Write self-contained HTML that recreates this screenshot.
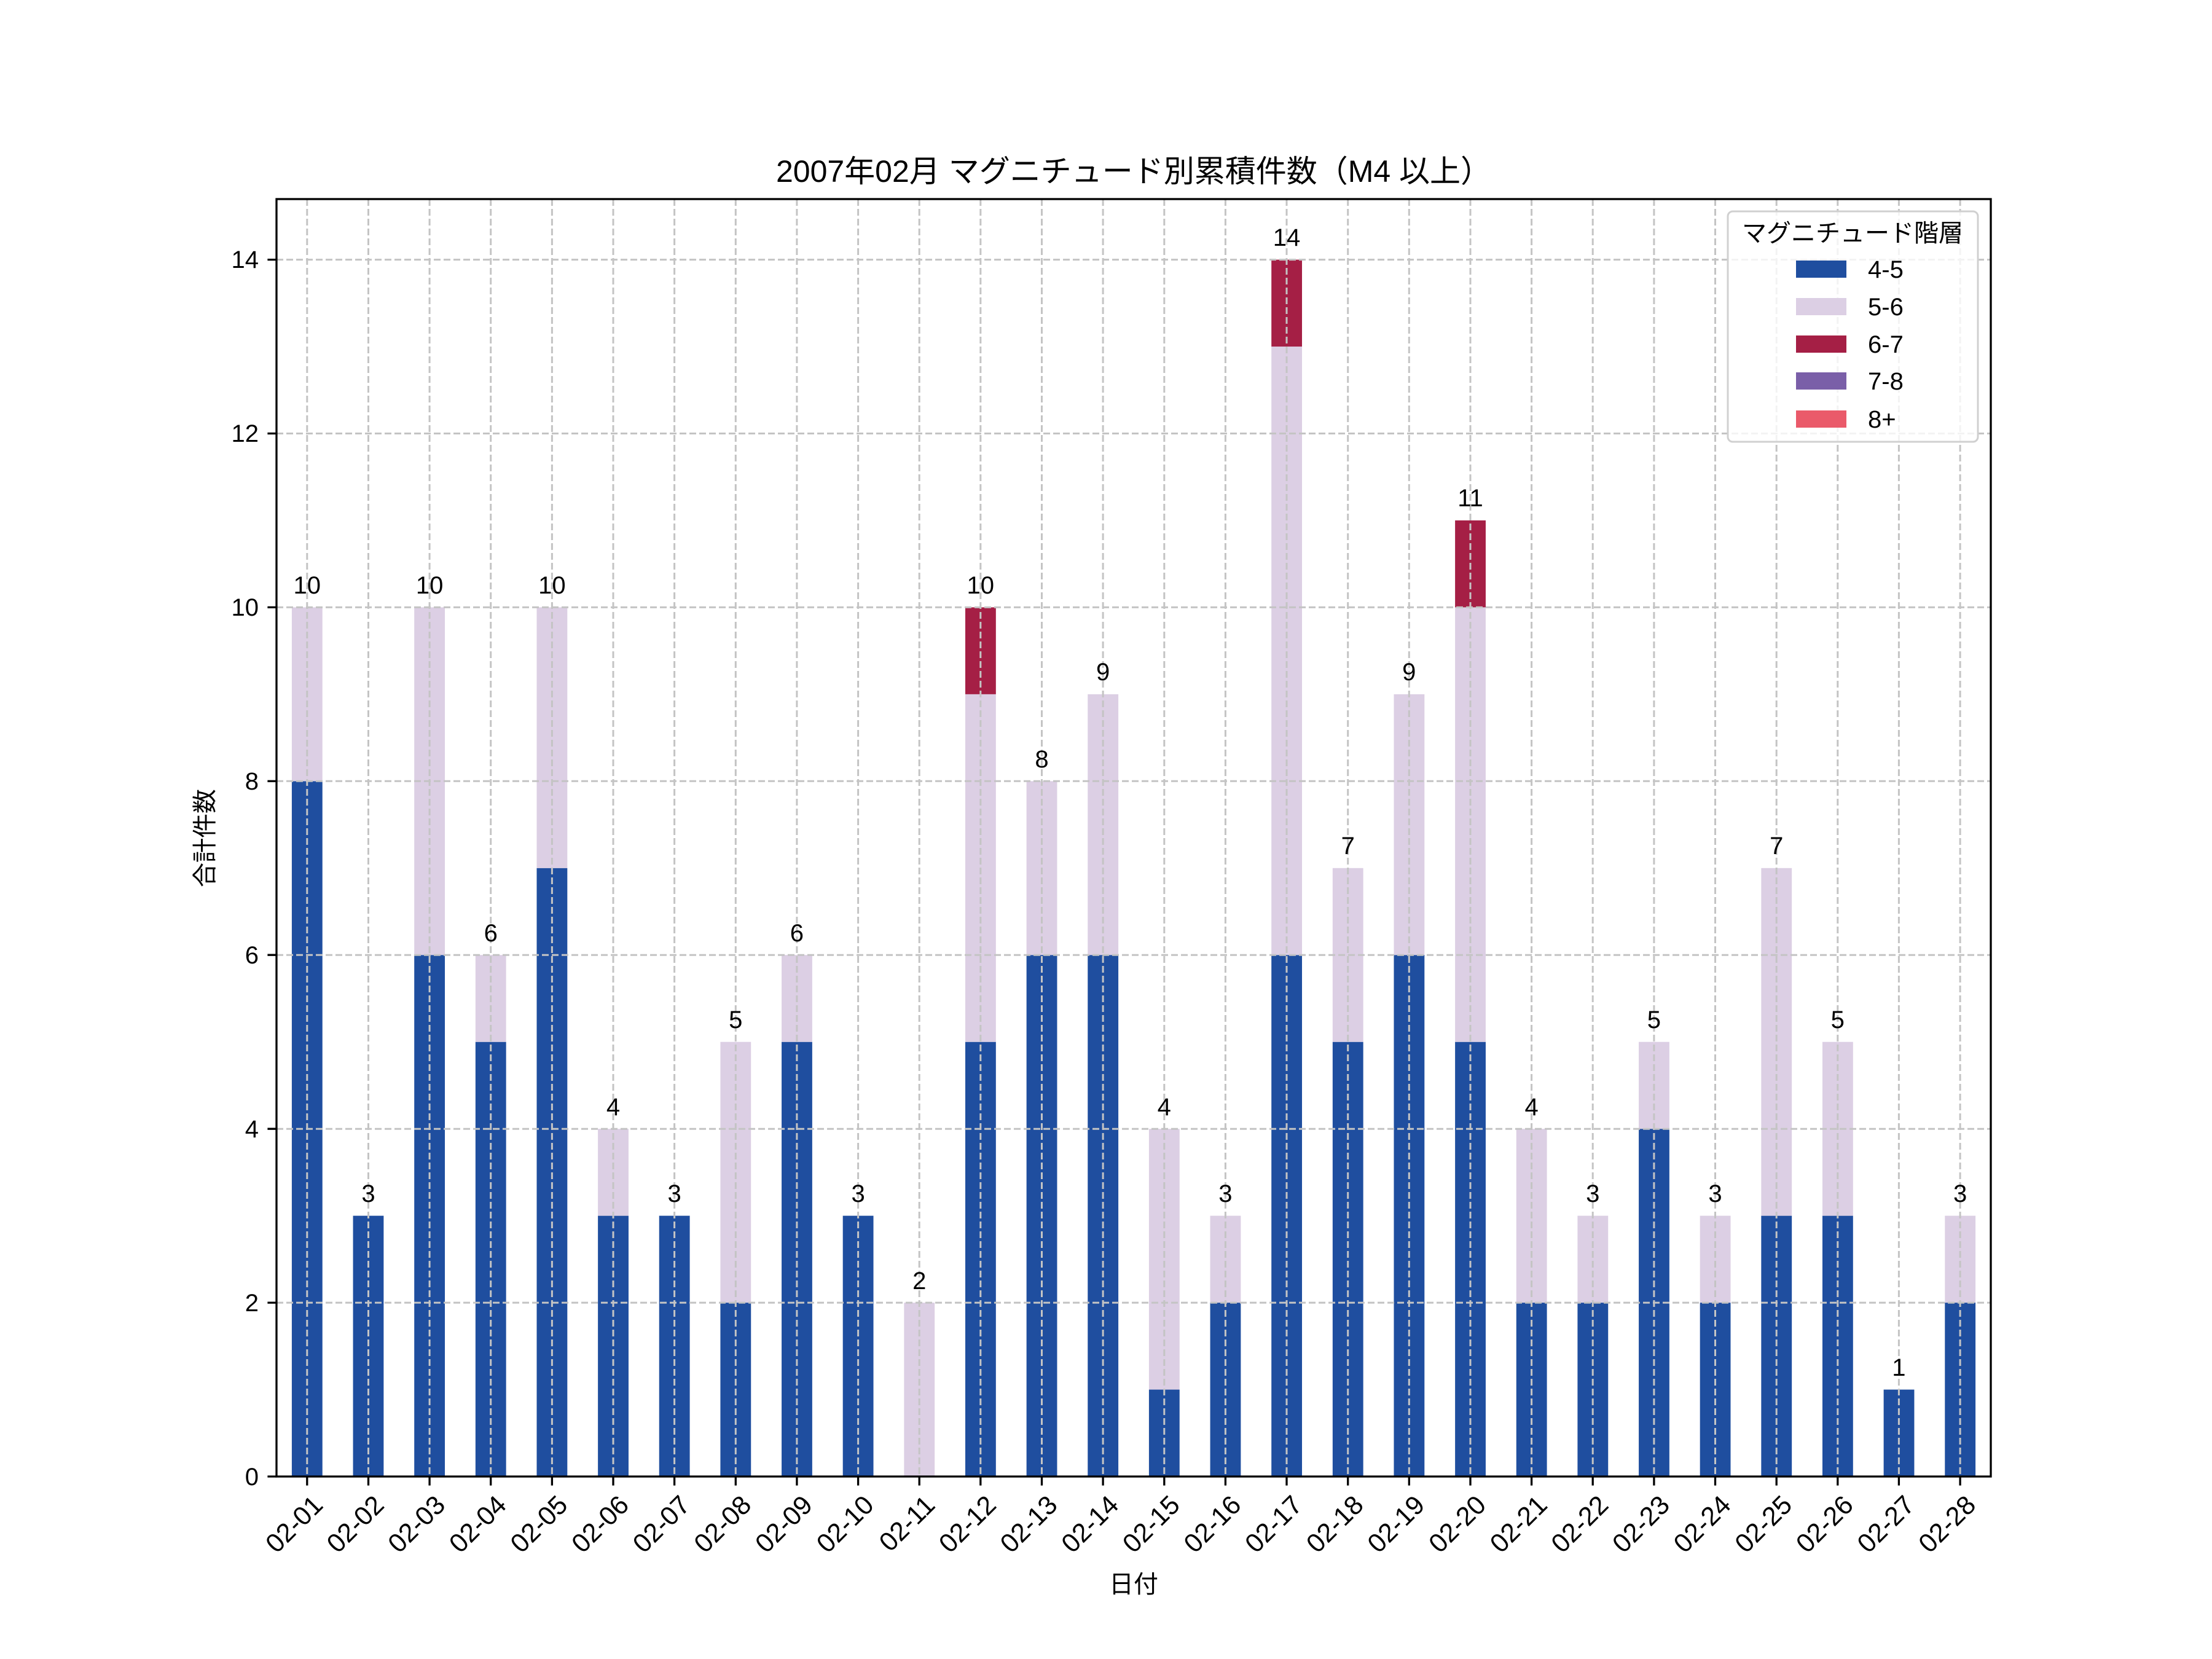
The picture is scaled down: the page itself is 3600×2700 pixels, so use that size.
<!DOCTYPE html>
<html><head><meta charset="utf-8"><style>
html,body{margin:0;padding:0;background:#fff;}
svg{display:block;font-family:"Liberation Sans","Noto Sans CJK JP",sans-serif;}
</style></head><body>
<svg width="3600" height="2700" viewBox="0 0 3600 2700" xmlns="http://www.w3.org/2000/svg">
<rect width="3600" height="2700" fill="#fff"/>
<g transform="translate(499.82,2403) scale(99.642857,-141.46)">
<g fill="#1f4e9f">
<rect x="-0.25" y="0" width="0.5" height="8"/>
<rect x="0.75" y="0" width="0.5" height="3"/>
<rect x="1.75" y="0" width="0.5" height="6"/>
<rect x="2.75" y="0" width="0.5" height="5"/>
<rect x="3.75" y="0" width="0.5" height="7"/>
<rect x="4.75" y="0" width="0.5" height="3"/>
<rect x="5.75" y="0" width="0.5" height="3"/>
<rect x="6.75" y="0" width="0.5" height="2"/>
<rect x="7.75" y="0" width="0.5" height="5"/>
<rect x="8.75" y="0" width="0.5" height="3"/>
<rect x="10.75" y="0" width="0.5" height="5"/>
<rect x="11.75" y="0" width="0.5" height="6"/>
<rect x="12.75" y="0" width="0.5" height="6"/>
<rect x="13.75" y="0" width="0.5" height="1"/>
<rect x="14.75" y="0" width="0.5" height="2"/>
<rect x="15.75" y="0" width="0.5" height="6"/>
<rect x="16.75" y="0" width="0.5" height="5"/>
<rect x="17.75" y="0" width="0.5" height="6"/>
<rect x="18.75" y="0" width="0.5" height="5"/>
<rect x="19.75" y="0" width="0.5" height="2"/>
<rect x="20.75" y="0" width="0.5" height="2"/>
<rect x="21.75" y="0" width="0.5" height="4"/>
<rect x="22.75" y="0" width="0.5" height="2"/>
<rect x="23.75" y="0" width="0.5" height="3"/>
<rect x="24.75" y="0" width="0.5" height="3"/>
<rect x="25.75" y="0" width="0.5" height="1"/>
<rect x="26.75" y="0" width="0.5" height="2"/>
</g>
<g fill="#dccfe4">
<rect x="-0.25" y="8" width="0.5" height="2"/>
<rect x="1.75" y="6" width="0.5" height="4"/>
<rect x="2.75" y="5" width="0.5" height="1"/>
<rect x="3.75" y="7" width="0.5" height="3"/>
<rect x="4.75" y="3" width="0.5" height="1"/>
<rect x="6.75" y="2" width="0.5" height="3"/>
<rect x="7.75" y="5" width="0.5" height="1"/>
<rect x="9.75" y="0" width="0.5" height="2"/>
<rect x="10.75" y="5" width="0.5" height="4"/>
<rect x="11.75" y="6" width="0.5" height="2"/>
<rect x="12.75" y="6" width="0.5" height="3"/>
<rect x="13.75" y="1" width="0.5" height="3"/>
<rect x="14.75" y="2" width="0.5" height="1"/>
<rect x="15.75" y="6" width="0.5" height="7"/>
<rect x="16.75" y="5" width="0.5" height="2"/>
<rect x="17.75" y="6" width="0.5" height="3"/>
<rect x="18.75" y="5" width="0.5" height="5"/>
<rect x="19.75" y="2" width="0.5" height="2"/>
<rect x="20.75" y="2" width="0.5" height="1"/>
<rect x="21.75" y="4" width="0.5" height="1"/>
<rect x="22.75" y="2" width="0.5" height="1"/>
<rect x="23.75" y="3" width="0.5" height="4"/>
<rect x="24.75" y="3" width="0.5" height="2"/>
<rect x="26.75" y="2" width="0.5" height="1"/>
</g>
<g fill="#a51f45">
<rect x="10.75" y="9" width="0.5" height="1"/>
<rect x="15.75" y="13" width="0.5" height="1"/>
<rect x="18.75" y="10" width="0.5" height="1"/>
</g>
</g>
<!-- grid -->
<g stroke="#c4c4c4" stroke-width="3" stroke-dasharray="11,5" fill="none">
<path d="M450 2120.1H3240M450 1837.2H3240M450 1554.2H3240M450 1271.3H3240M450 988.4H3240M450 705.5H3240M450 422.6H3240"/>
<path d="M499.8 324V2403M599.5 324V2403M699.1 324V2403M798.7 324V2403M898.4 324V2403M998 324V2403M1097.6 324V2403M1197.3 324V2403M1296.9 324V2403M1396.6 324V2403M1496.2 324V2403M1595.8 324V2403M1695.5 324V2403M1795.1 324V2403M1894.8 324V2403M1994.4 324V2403M2094 324V2403M2193.7 324V2403M2293.3 324V2403M2393 324V2403M2492.6 324V2403M2592.2 324V2403M2691.9 324V2403M2791.5 324V2403M2891.2 324V2403M2990.8 324V2403M3090.4 324V2403M3190.1 324V2403"/>
</g>
<rect x="450" y="324" width="2790" height="2079" fill="none" stroke="#000" stroke-width="3.3"/>
<!-- ticks -->
<g stroke="#000" stroke-width="3.3">
<path d="M450 2403h-14.6M450 2120.1h-14.6M450 1837.2h-14.6M450 1554.2h-14.6M450 1271.3h-14.6M450 988.4h-14.6M450 705.5h-14.6M450 422.6h-14.6"/>
<path d="M499.8 2403v14.6M599.5 2403v14.6M699.1 2403v14.6M798.7 2403v14.6M898.4 2403v14.6M998 2403v14.6M1097.6 2403v14.6M1197.3 2403v14.6M1296.9 2403v14.6M1396.6 2403v14.6M1496.2 2403v14.6M1595.8 2403v14.6M1695.5 2403v14.6M1795.1 2403v14.6M1894.8 2403v14.6M1994.4 2403v14.6M2094 2403v14.6M2193.7 2403v14.6M2293.3 2403v14.6M2393 2403v14.6M2492.6 2403v14.6M2592.2 2403v14.6M2691.9 2403v14.6M2791.5 2403v14.6M2891.2 2403v14.6M2990.8 2403v14.6M3090.4 2403v14.6M3190.1 2403v14.6"/>
</g>
<g font-size="40" text-anchor="end" fill="#000">
<text x="421" y="2417">0</text>
<text x="421" y="2134">2</text>
<text x="421" y="1851">4</text>
<text x="421" y="1568">6</text>
<text x="421" y="1285">8</text>
<text x="421" y="1002">10</text>
<text x="421" y="719">12</text>
<text x="421" y="436">14</text>
</g>
<g font-size="43" text-anchor="end" fill="#000">
<text transform="translate(506,2430) rotate(-45)" dy="0.72em">02-01</text>
<text transform="translate(605.5,2430) rotate(-45)" dy="0.72em">02-02</text>
<text transform="translate(705.1,2430) rotate(-45)" dy="0.72em">02-03</text>
<text transform="translate(804.7,2430) rotate(-45)" dy="0.72em">02-04</text>
<text transform="translate(904.4,2430) rotate(-45)" dy="0.72em">02-05</text>
<text transform="translate(1004,2430) rotate(-45)" dy="0.72em">02-06</text>
<text transform="translate(1103.6,2430) rotate(-45)" dy="0.72em">02-07</text>
<text transform="translate(1203.3,2430) rotate(-45)" dy="0.72em">02-08</text>
<text transform="translate(1302.9,2430) rotate(-45)" dy="0.72em">02-09</text>
<text transform="translate(1402.6,2430) rotate(-45)" dy="0.72em">02-10</text>
<text transform="translate(1502.2,2430) rotate(-45)" dy="0.72em">02-11</text>
<text transform="translate(1601.8,2430) rotate(-45)" dy="0.72em">02-12</text>
<text transform="translate(1701.5,2430) rotate(-45)" dy="0.72em">02-13</text>
<text transform="translate(1801.1,2430) rotate(-45)" dy="0.72em">02-14</text>
<text transform="translate(1900.8,2430) rotate(-45)" dy="0.72em">02-15</text>
<text transform="translate(2000.4,2430) rotate(-45)" dy="0.72em">02-16</text>
<text transform="translate(2100,2430) rotate(-45)" dy="0.72em">02-17</text>
<text transform="translate(2199.7,2430) rotate(-45)" dy="0.72em">02-18</text>
<text transform="translate(2299.3,2430) rotate(-45)" dy="0.72em">02-19</text>
<text transform="translate(2399,2430) rotate(-45)" dy="0.72em">02-20</text>
<text transform="translate(2498.6,2430) rotate(-45)" dy="0.72em">02-21</text>
<text transform="translate(2598.2,2430) rotate(-45)" dy="0.72em">02-22</text>
<text transform="translate(2697.9,2430) rotate(-45)" dy="0.72em">02-23</text>
<text transform="translate(2797.5,2430) rotate(-45)" dy="0.72em">02-24</text>
<text transform="translate(2897.2,2430) rotate(-45)" dy="0.72em">02-25</text>
<text transform="translate(2996.8,2430) rotate(-45)" dy="0.72em">02-26</text>
<text transform="translate(3096.4,2430) rotate(-45)" dy="0.72em">02-27</text>
<text transform="translate(3196.1,2430) rotate(-45)" dy="0.72em">02-28</text>
</g>
<!-- bar labels -->
<g font-size="40" text-anchor="middle" fill="#000" transform="translate(0,-8)">
<text x="499.8" y="974">10</text>
<text x="599.5" y="1964">3</text>
<text x="699.1" y="974">10</text>
<text x="798.7" y="1540">6</text>
<text x="898.4" y="974">10</text>
<text x="998" y="1823">4</text>
<text x="1097.6" y="1964">3</text>
<text x="1197.3" y="1681">5</text>
<text x="1296.9" y="1540">6</text>
<text x="1396.6" y="1964">3</text>
<text x="1496.2" y="2106">2</text>
<text x="1595.8" y="974">10</text>
<text x="1695.5" y="1257">8</text>
<text x="1795.1" y="1115">9</text>
<text x="1894.8" y="1823">4</text>
<text x="1994.4" y="1964">3</text>
<text x="2094" y="408">14</text>
<text x="2193.7" y="1398">7</text>
<text x="2293.3" y="1115">9</text>
<text x="2393" y="832">11</text>
<text x="2492.6" y="1823">4</text>
<text x="2592.2" y="1964">3</text>
<text x="2691.9" y="1681">5</text>
<text x="2791.5" y="1964">3</text>
<text x="2891.2" y="1398">7</text>
<text x="2990.8" y="1681">5</text>
<text x="3090.4" y="2247">1</text>
<text x="3190.1" y="1964">3</text>
</g>
<text x="1845" y="296" font-size="50" text-anchor="middle">2007年02月 マグニチュード別累積件数（M4 以上）</text>
<text x="1845" y="2592" font-size="40" text-anchor="middle">日付</text>
<text transform="translate(347,1364) rotate(-90)" font-size="40" text-anchor="middle">合計件数</text>
<!-- legend -->
<rect x="2812" y="344" width="407" height="375" rx="8" fill="#fff" fill-opacity="0.8" stroke="#d0d0d0" stroke-width="3"/>
<text x="3015" y="393" font-size="40" text-anchor="middle">マグニチュード階層</text>
<rect x="2923" y="424" width="82" height="28" fill="#1f4e9f"/>
<rect x="2923" y="485" width="82" height="28" fill="#dccfe4"/>
<rect x="2923" y="546" width="82" height="28" fill="#a51f45"/>
<rect x="2923" y="606" width="82" height="28" fill="#7a5fa8"/>
<rect x="2923" y="668" width="82" height="28" fill="#ea5a6a"/>
<g font-size="40">
<text x="3040" y="452">4-5</text>
<text x="3040" y="513">5-6</text>
<text x="3040" y="574">6-7</text>
<text x="3040" y="634">7-8</text>
<text x="3040" y="696">8+</text>
</g>
</svg>
</body></html>
